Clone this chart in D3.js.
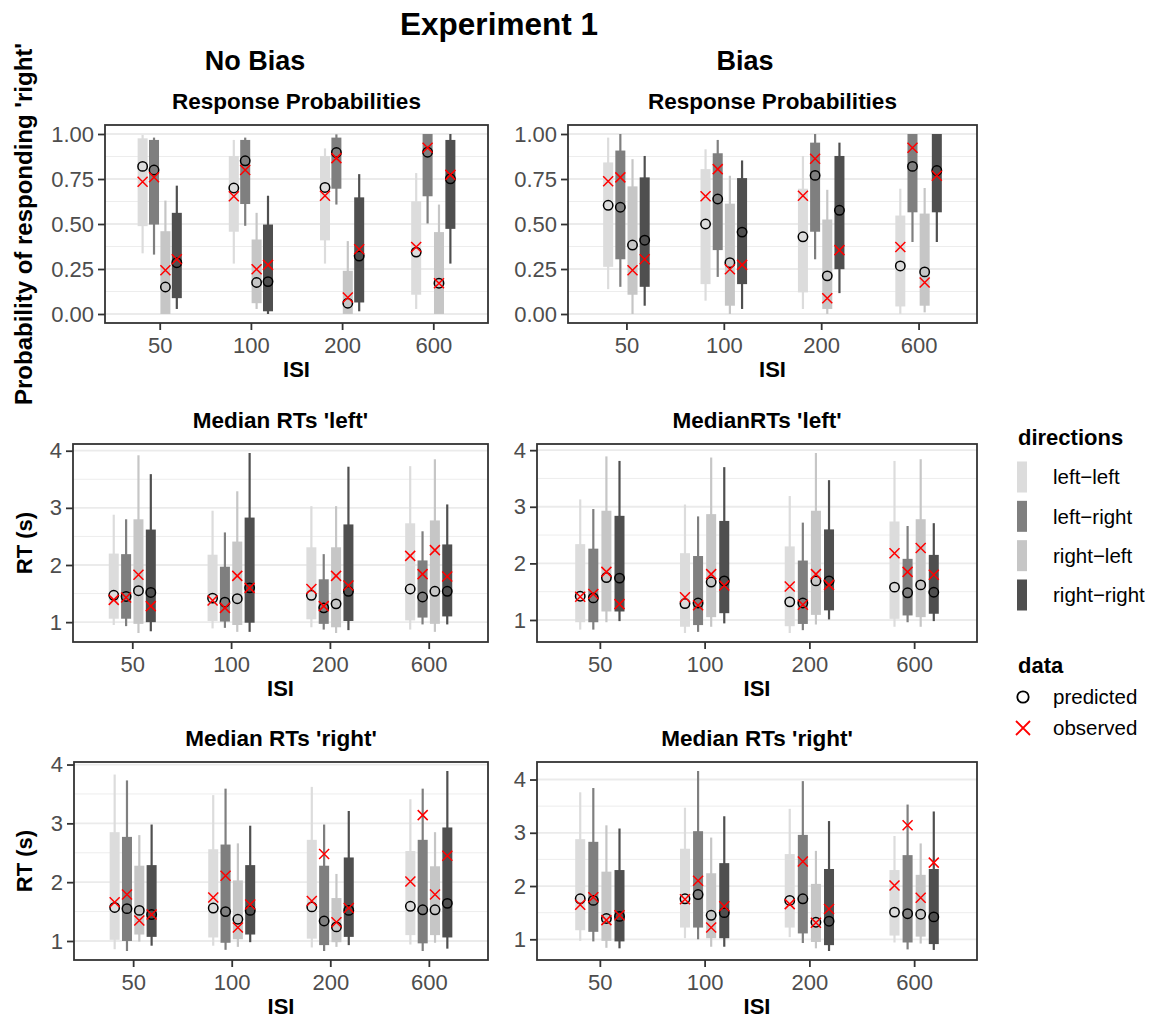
<!DOCTYPE html>
<html>
<head>
<meta charset="utf-8">
<script src="https://cdn.jsdelivr.net/npm/d3@7"></script>
<style>
  body { margin: 0; background: #fff; }
  text { font-family: "Liberation Sans", Arial, Helvetica, sans-serif; }
</style>
</head>
<body>
<svg id="chart" width="1150" height="1019"></svg>
<script>
// categories
const isiLabels = ["50", "100", "200", "600"];
const directions = ["left−left", "left−right", "right−left", "right−right"];
const dirColors = ["#DCDCDC", "#7F7F7F", "#C6C6C6", "#4F4F4F"];
const dataKinds = ["predicted", "observed"];

// tick values
const probTicks = [0, 0.25, 0.5, 0.75, 1];
const rtTicks = [1, 2, 3, 4];

// rows in order ISI x direction: [low, q1, q3, high, predicted, observed]
const probNoBias = [
  [0.337, 0.488, 0.976, 0.995, 0.82, 0.735],
  [0.33, 0.497, 0.967, 0.98, 0.80, 0.76],
  [0.0, 0.0, 0.46, 0.63, 0.15, 0.243],
  [0.028, 0.088, 0.562, 0.713, 0.285, 0.304],
  [0.28, 0.457, 0.878, 0.967, 0.70, 0.654],
  [0.49, 0.611, 0.967, 0.98, 0.851, 0.80],
  [0.028, 0.06, 0.414, 0.562, 0.175, 0.249],
  [0.0, 0.015, 0.497, 0.657, 0.18, 0.273],
  [0.28, 0.409, 0.878, 0.92, 0.703, 0.657],
  [0.608, 0.696, 0.98, 0.998, 0.897, 0.866],
  [0.0, 0.0, 0.24, 0.405, 0.06, 0.092],
  [0.015, 0.064, 0.648, 0.777, 0.322, 0.36],
  [0.028, 0.107, 0.626, 0.783, 0.344, 0.372],
  [0.503, 0.654, 1.0, 1.0, 0.899, 0.924],
  [0.0, 0.0, 0.455, 0.608, 0.171, 0.171],
  [0.28, 0.473, 0.967, 1.0, 0.751, 0.773]
];

const probBias = [
  [0.138, 0.262, 0.842, 0.98, 0.604, 0.737],
  [0.151, 0.304, 0.908, 1.0, 0.593, 0.759],
  [0.0, 0.107, 0.709, 0.86, 0.383, 0.243],
  [0.046, 0.151, 0.759, 0.878, 0.41, 0.304],
  [0.074, 0.166, 0.805, 0.915, 0.50, 0.654],
  [0.206, 0.355, 0.893, 0.967, 0.639, 0.805],
  [0.0, 0.046, 0.613, 0.768, 0.285, 0.249],
  [0.028, 0.166, 0.755, 0.853, 0.455, 0.273],
  [0.028, 0.12, 0.696, 0.878, 0.429, 0.657],
  [0.304, 0.457, 0.952, 1.0, 0.77, 0.862],
  [0.0, 0.028, 0.525, 0.69, 0.212, 0.088],
  [0.116, 0.249, 0.878, 0.952, 0.576, 0.355],
  [0.0, 0.042, 0.547, 0.696, 0.267, 0.372],
  [0.40, 0.565, 1.0, 1.0, 0.82, 0.924],
  [0.009, 0.046, 0.558, 0.70, 0.234, 0.175],
  [0.40, 0.565, 1.0, 1.0, 0.797, 0.768]
];

const rtLeftNoBias = [
  [0.95, 1.06, 2.20, 2.88, 1.47, 1.39],
  [0.93, 1.06, 2.19, 2.80, 1.45, 1.43],
  [0.81, 0.97, 2.80, 3.92, 1.55, 1.83],
  [0.84, 1.00, 2.62, 3.59, 1.52, 1.28],
  [0.89, 1.02, 2.18, 2.95, 1.42, 1.38],
  [0.90, 1.01, 1.97, 2.57, 1.35, 1.25],
  [0.83, 0.95, 2.41, 3.29, 1.41, 1.81],
  [0.83, 0.99, 2.83, 3.96, 1.60, 1.60],
  [0.91, 1.05, 2.31, 3.03, 1.47, 1.58],
  [0.87, 0.97, 1.75, 2.19, 1.25, 1.28],
  [0.81, 0.91, 2.31, 3.03, 1.32, 1.81],
  [0.86, 1.02, 2.71, 3.72, 1.54, 1.64],
  [0.87, 1.03, 2.73, 3.73, 1.58, 2.16],
  [0.96, 1.08, 2.08, 2.59, 1.44, 1.84],
  [0.83, 0.97, 2.78, 3.85, 1.54, 2.26],
  [0.96, 1.10, 2.36, 3.06, 1.54, 1.80]
];

const rtLeftBias = [
  [0.83, 0.96, 2.34, 3.13, 1.42, 1.41],
  [0.83, 0.96, 2.26, 2.96, 1.39, 1.46],
  [0.96, 1.15, 2.93, 3.89, 1.75, 1.85],
  [0.98, 1.15, 2.84, 3.81, 1.74, 1.28],
  [0.77, 0.88, 2.18, 3.04, 1.29, 1.40],
  [0.79, 0.91, 2.13, 2.83, 1.30, 1.26],
  [0.88, 1.05, 2.87, 3.87, 1.67, 1.81],
  [0.94, 1.12, 2.75, 3.70, 1.69, 1.61],
  [0.77, 0.89, 2.30, 3.19, 1.32, 1.59],
  [0.82, 0.93, 2.05, 2.72, 1.30, 1.27],
  [0.92, 1.09, 2.93, 3.95, 1.69, 1.81],
  [1.01, 1.17, 2.60, 3.47, 1.69, 1.62],
  [0.88, 1.02, 2.74, 3.81, 1.58, 2.18],
  [0.96, 1.08, 2.08, 2.66, 1.48, 1.85],
  [0.88, 1.05, 2.78, 3.84, 1.62, 2.27],
  [0.98, 1.11, 2.15, 2.71, 1.49, 1.80]
];

const rtRightNoBias = [
  [0.86, 1.02, 2.85, 3.83, 1.57, 1.66],
  [0.83, 1.00, 2.77, 3.73, 1.55, 1.79],
  [0.99, 1.11, 2.28, 2.80, 1.52, 1.35],
  [0.92, 1.07, 2.29, 2.98, 1.45, 1.45],
  [0.92, 1.06, 2.56, 3.48, 1.56, 1.74],
  [0.85, 0.97, 2.64, 3.59, 1.50, 2.11],
  [0.90, 1.03, 2.03, 2.66, 1.37, 1.23],
  [0.98, 1.11, 2.29, 2.96, 1.52, 1.62],
  [0.89, 1.04, 2.72, 3.62, 1.58, 1.68],
  [0.83, 0.93, 2.28, 2.98, 1.34, 2.48],
  [0.90, 0.98, 1.73, 2.14, 1.24, 1.32],
  [0.93, 1.07, 2.42, 3.21, 1.52, 1.56],
  [0.94, 1.10, 2.53, 3.41, 1.59, 2.01],
  [0.83, 0.96, 2.72, 3.59, 1.53, 3.14],
  [0.97, 1.10, 2.27, 2.85, 1.53, 1.79],
  [0.87, 1.06, 2.93, 3.89, 1.64, 2.45]
];

const rtRightBias = [
  [0.97, 1.17, 2.88, 3.76, 1.76, 1.65],
  [0.96, 1.14, 2.83, 3.84, 1.73, 1.79],
  [0.84, 0.97, 2.27, 3.14, 1.39, 1.36],
  [0.83, 0.96, 2.30, 3.08, 1.43, 1.45],
  [1.02, 1.22, 2.70, 3.47, 1.76, 1.75],
  [1.00, 1.22, 3.03, 4.16, 1.84, 2.10],
  [0.86, 1.02, 2.24, 2.91, 1.45, 1.22],
  [0.86, 1.02, 2.43, 3.31, 1.50, 1.62],
  [1.04, 1.22, 2.60, 3.45, 1.73, 1.66],
  [0.93, 1.11, 2.96, 3.97, 1.76, 2.46],
  [0.83, 0.95, 2.04, 2.66, 1.32, 1.31],
  [0.78, 0.89, 2.32, 3.22, 1.34, 1.57],
  [0.94, 1.07, 2.30, 2.94, 1.51, 2.01],
  [0.81, 0.94, 2.58, 3.53, 1.48, 3.14],
  [0.92, 1.05, 2.21, 2.80, 1.47, 1.78],
  [0.80, 0.91, 2.32, 3.40, 1.42, 2.44]
];

const svg = d3.select("#chart");

const panels = [
  { rows: probNoBias, prob: true, title: "Response Probabilities", ytitle: "Probability of responding 'right'", ysize: 24, x0: 105, x1: 488, y0: 125, y1: 323 },
  { rows: probBias, prob: true, title: "Response Probabilities", x0: 568, x1: 977, y0: 125, y1: 323 },
  { rows: rtLeftNoBias, title: "Median RTs 'left'", ytitle: "RT (s)", ysize: 22, x0: 73, x1: 488, y0: 444, y1: 642 },
  { rows: rtLeftBias, title: "MedianRTs 'left'", x0: 537, x1: 977, y0: 444, y1: 642 },
  { rows: rtRightNoBias, title: "Median RTs 'right'", ytitle: "RT (s)", ysize: 22, x0: 74, x1: 488, y0: 762, y1: 960 },
  { rows: rtRightBias, title: "Median RTs 'right'", x0: 537, x1: 977, y0: 762, y1: 960 }
];

function xMark(sel, size) {
  return sel.attr("d", `M${-size},${-size}L${size},${size}M${-size},${size}L${size},${-size}`);
}

function drawPanel(p) {
  const g = svg.append("g");

  const x = d3.scalePoint().domain(isiLabels).range([p.x0, p.x1]).padding(0.6);
  const dodge = x.step() * 0.125;

  // y domain with 5% expansion like ggplot
  const ext = p.prob ? [0, 1] : d3.extent(p.rows.flat());
  const pad = (ext[1] - ext[0]) * 0.05;
  const y = d3.scaleLinear().domain([ext[0] - pad, ext[1] + pad]).range([p.y1, p.y0]);

  const major = p.prob ? probTicks : rtTicks;
  const minor = d3.pairs(major).map(([a, b]) => (a + b) / 2);

  // grid
  g.selectAll(".minor").data(minor).join("line")
    .attr("x1", p.x0).attr("x2", p.x1)
    .attr("y1", d => y(d)).attr("y2", d => y(d))
    .attr("stroke", "#EBEBEB").attr("stroke-width", 0.9);
  g.selectAll(".major").data(major).join("line")
    .attr("x1", p.x0).attr("x2", p.x1)
    .attr("y1", d => y(d)).attr("y2", d => y(d))
    .attr("stroke", "#EBEBEB").attr("stroke-width", 1.8);

  const items = p.rows.map((r, i) => ({
    isi: isiLabels[Math.floor(i / 4)],
    dir: i % 4,
    lo: r[0], q1: r[1], q3: r[2], hi: r[3], pred: r[4], obs: r[5]
  }));
  const cx = d => x(d.isi) + (d.dir - 1.5) * dodge;

  // whiskers
  g.selectAll(".whisker").data(items).join("line")
    .attr("x1", cx).attr("x2", cx)
    .attr("y1", d => y(d.lo)).attr("y2", d => y(d.hi))
    .attr("stroke", d => dirColors[d.dir]).attr("stroke-width", 2.2);

  // boxes
  g.selectAll(".box").data(items).join("rect")
    .attr("x", d => cx(d) - 5).attr("width", 10)
    .attr("y", d => y(d.q3)).attr("height", d => y(d.q1) - y(d.q3))
    .attr("fill", d => dirColors[d.dir]);

  // predicted
  g.selectAll(".pred").data(items).join("circle")
    .attr("cx", cx).attr("cy", d => y(d.pred)).attr("r", 4.7)
    .attr("fill", "none").attr("stroke", "#000").attr("stroke-width", 1.5);

  // observed
  g.selectAll(".obs").data(items).join("path")
    .attr("transform", d => `translate(${cx(d)},${y(d.obs)})`)
    .call(xMark, 5)
    .attr("fill", "none").attr("stroke", "#FF0000").attr("stroke-width", 1.5);

  // border
  g.append("rect")
    .attr("x", p.x0).attr("y", p.y0)
    .attr("width", p.x1 - p.x0).attr("height", p.y1 - p.y0)
    .attr("fill", "none").attr("stroke", "#333333").attr("stroke-width", 1.8);

  // axes
  const yAxis = g.append("g").attr("transform", `translate(${p.x0},0)`)
    .call(d3.axisLeft(y).tickValues(major).tickSize(7).tickPadding(4)
      .tickFormat(p.prob ? d3.format(".2f") : d3.format("d")));
  const xAxis = g.append("g").attr("transform", `translate(0,${p.y1})`)
    .call(d3.axisBottom(x).tickSize(7).tickPadding(7));
  [yAxis, xAxis].forEach(a => {
    a.select(".domain").remove();
    a.selectAll(".tick line").attr("stroke", "#333333").attr("stroke-width", 1.8);
    a.selectAll(".tick text").attr("fill", "#4D4D4D").attr("font-size", 22)
      .attr("font-family", "Liberation Sans, Arial, sans-serif");
  });

  // titles
  g.append("text").attr("x", (p.x0 + p.x1) / 2).attr("y", p.y0 - 16)
    .attr("text-anchor", "middle").attr("font-size", 22.5).attr("font-weight", "bold")
    .text(p.title);
  g.append("text").attr("x", (p.x0 + p.x1) / 2).attr("y", p.y1 + 54)
    .attr("text-anchor", "middle").attr("font-size", 22).attr("font-weight", "bold")
    .text("ISI");
  if (p.ytitle) {
    g.append("text")
      .attr("transform", `translate(32,${(p.y0 + p.y1) / 2}) rotate(-90)`)
      .attr("text-anchor", "middle").attr("font-size", p.ysize).attr("font-weight", "bold")
      .text(p.ytitle);
  }
}

panels.forEach(drawPanel);

// overall titles
svg.append("text").attr("x", 499).attr("y", 35).attr("text-anchor", "middle")
  .attr("font-size", 31.5).attr("font-weight", "bold").text("Experiment 1");
svg.append("text").attr("x", 255).attr("y", 70).attr("text-anchor", "middle")
  .attr("font-size", 27).attr("font-weight", "bold").text("No Bias");
svg.append("text").attr("x", 745).attr("y", 70).attr("text-anchor", "middle")
  .attr("font-size", 27).attr("font-weight", "bold").text("Bias");

// legend
const leg = svg.append("g");
leg.append("text").attr("x", 1018).attr("y", 445)
  .attr("font-size", 22).attr("font-weight", "bold").text("directions");
const keyY = d3.scalePoint().domain(directions).range([477, 595]);
leg.selectAll(".key").data(directions).join("rect")
  .attr("x", 1017).attr("width", 10)
  .attr("y", d => keyY(d) - 15.5).attr("height", 31)
  .attr("fill", (d, i) => dirColors[i]);
leg.selectAll(".keytext").data(directions).join("text")
  .attr("x", 1053).attr("y", d => keyY(d)).attr("dy", "0.35em")
  .attr("font-size", 20.5).text(d => d);

leg.append("text").attr("x", 1018).attr("y", 673)
  .attr("font-size", 22).attr("font-weight", "bold").text("data");
const dataY = d3.scalePoint().domain(dataKinds).range([697, 728]);
leg.append("circle").attr("cx", 1023).attr("cy", dataY("predicted")).attr("r", 5.7)
  .attr("fill", "none").attr("stroke", "#000").attr("stroke-width", 1.8);
leg.append("path").attr("transform", `translate(1023,${dataY("observed")})`)
  .call(xMark, 7).attr("fill", "none").attr("stroke", "#FF0000").attr("stroke-width", 1.8);
leg.selectAll(".datatext").data(dataKinds).join("text")
  .attr("x", 1053).attr("y", d => dataY(d)).attr("dy", "0.35em")
  .attr("font-size", 20.5).text(d => d);
</script>
</body>
</html>
